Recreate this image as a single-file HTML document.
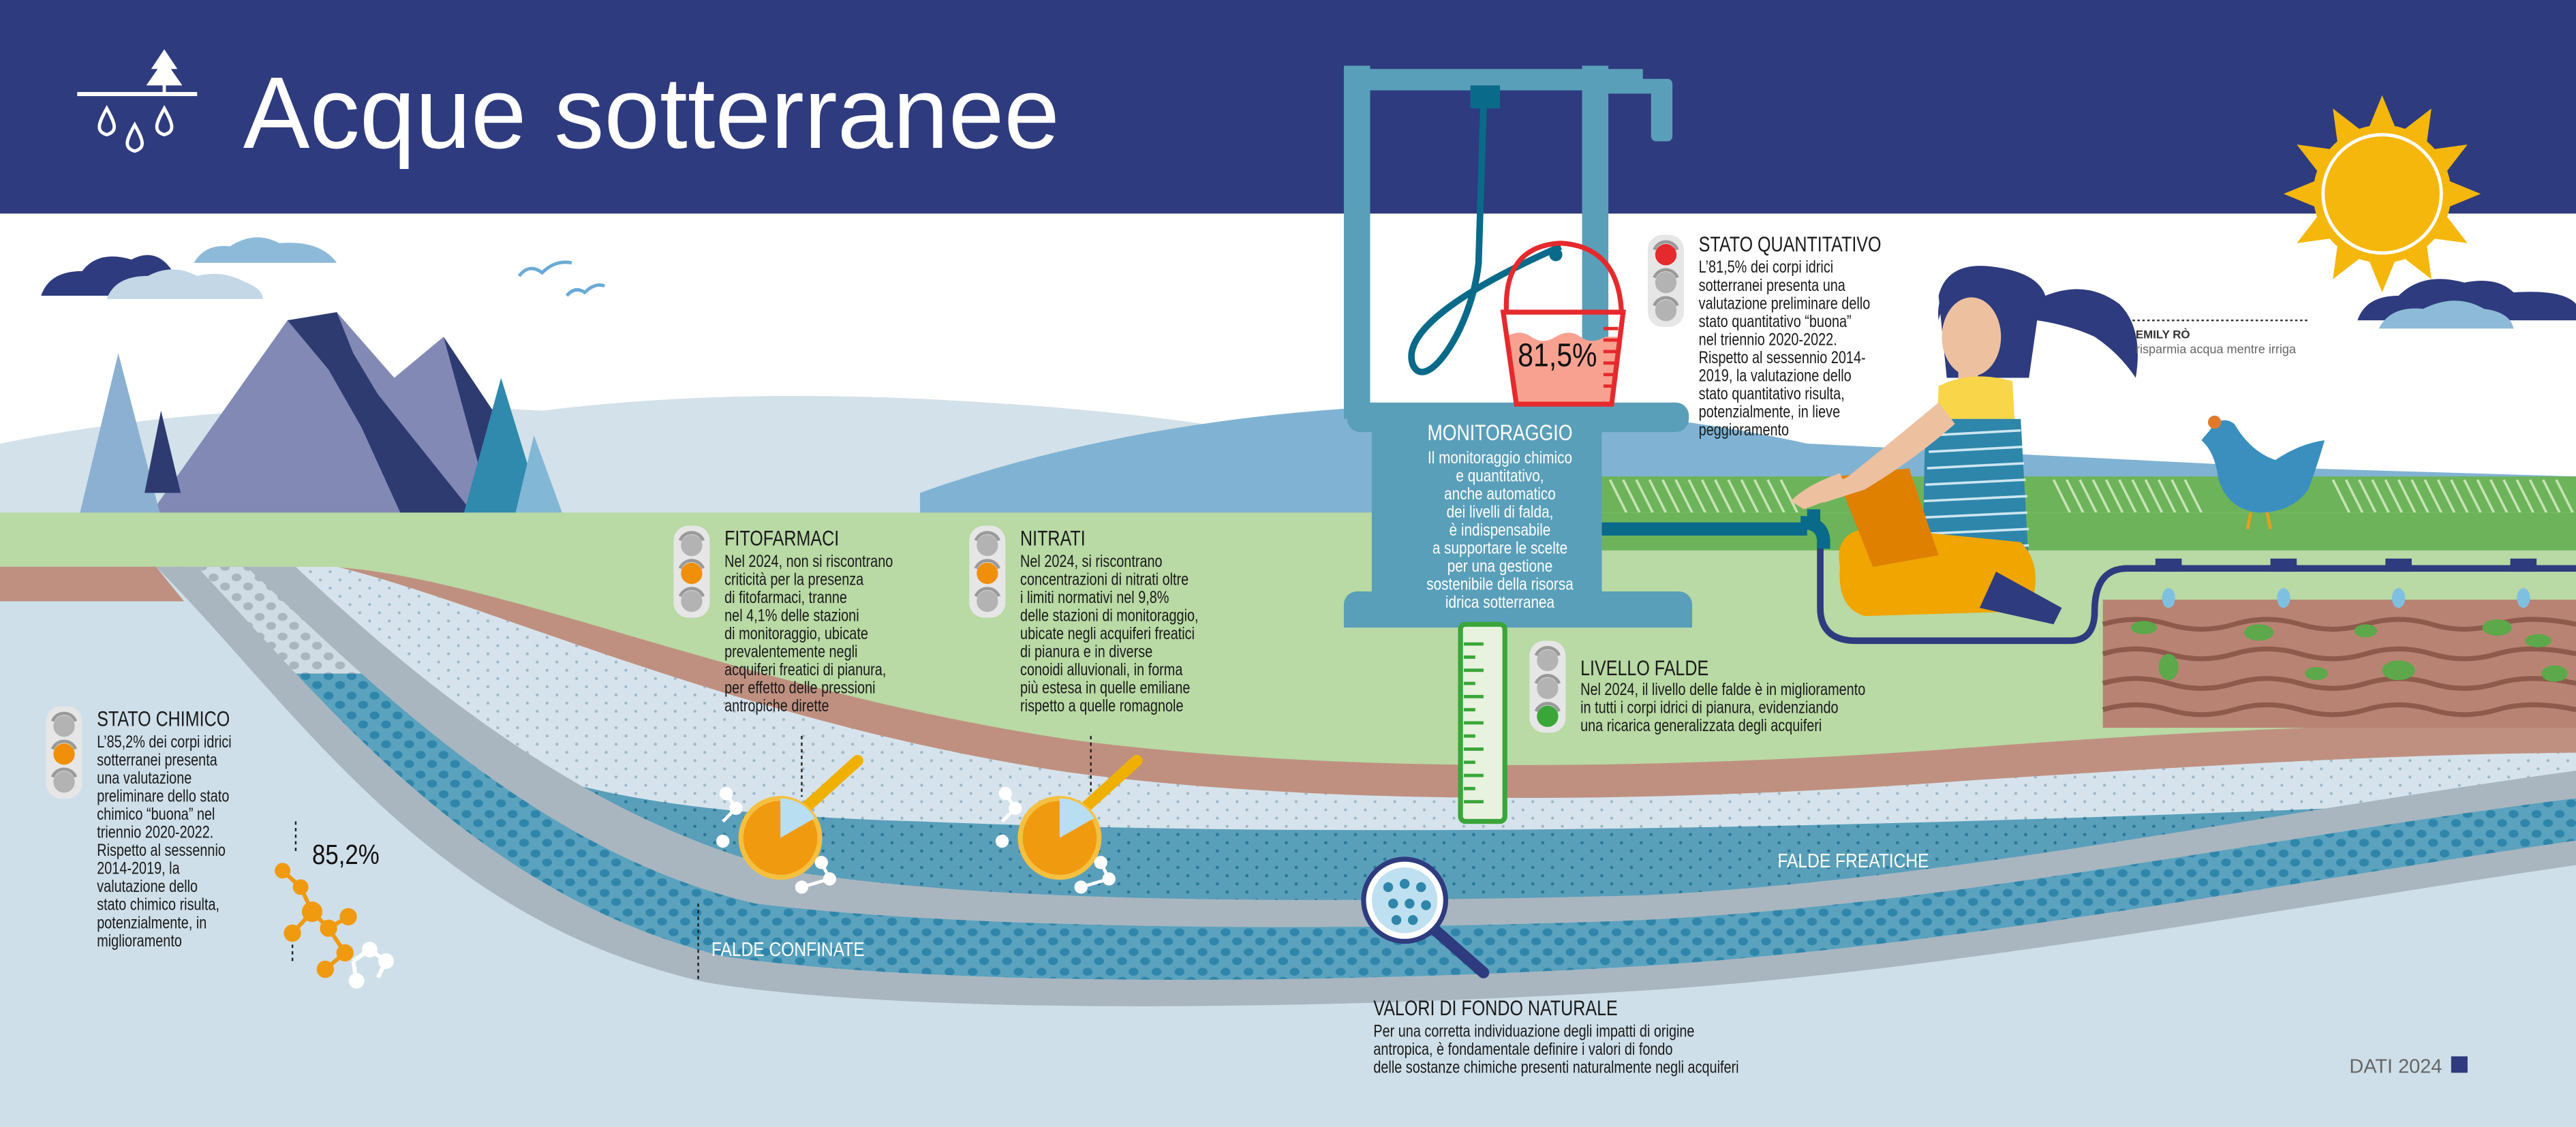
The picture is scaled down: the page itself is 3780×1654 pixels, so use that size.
<!DOCTYPE html>
<html><head><meta charset="utf-8">
<style>
html,body{margin:0;padding:0;background:#fff;width:3780px;height:1654px;overflow:hidden;}
svg{display:block;}
text{font-family:"Liberation Sans",sans-serif;}
.t{font-size:13px;fill:#1a1a1a;}
.b{font-size:10.3px;fill:#1a1a1a;}
.w{fill:#fff;}
</style></head><body>
<svg width="3780" height="1654" viewBox="0 0 1568 686" preserveAspectRatio="none" xmlns="http://www.w3.org/2000/svg">
<defs>
<pattern id="dl" width="12" height="10" patternUnits="userSpaceOnUse">
<rect width="12" height="10" fill="#d6e3ec"/><circle cx="3" cy="3" r="0.9" fill="#9fb8c8"/><circle cx="9" cy="8" r="0.9" fill="#9fb8c8"/></pattern>
<pattern id="db" width="12" height="10" patternUnits="userSpaceOnUse">
<rect width="12" height="10" fill="#5a9fba"/><circle cx="3" cy="3" r="1" fill="#2a7898"/><circle cx="9" cy="8" r="1" fill="#2a7898"/></pattern>
<pattern id="cb" width="14" height="12" patternUnits="userSpaceOnUse">
<rect width="14" height="12" fill="#5aa2be"/><ellipse cx="4" cy="3.5" rx="3" ry="2.4" fill="#2f86aa"/><ellipse cx="11" cy="9" rx="3" ry="2.4" fill="#2f86aa"/></pattern>
<pattern id="cl" width="14" height="12" patternUnits="userSpaceOnUse">
<rect width="14" height="12" fill="#d0dce4"/><ellipse cx="4" cy="3.5" rx="3" ry="2.4" fill="#a9b6c0"/><ellipse cx="11" cy="9" rx="3" ry="2.4" fill="#a9b6c0"/></pattern>
<clipPath id="gc"><rect x="0" y="345" width="1568" height="400"/></clipPath>
<clipPath id="tc"><rect x="0" y="345" width="1568" height="65"/></clipPath>
</defs>

<rect width="1568" height="686" fill="#fff"/>
<rect width="1568" height="130" fill="#2e3b7e"/>
<text x="148" y="90" font-size="62" fill="#fff" textLength="497" lengthAdjust="spacingAndGlyphs">Acque sotterranee</text>
<g fill="#fff">
<rect x="47" y="56" width="73" height="2.5"/>
<polygon points="100,30 92,42 96,42 89,52 111,52 104,42 108,42"/>
<rect x="99" y="52" width="2" height="5"/>
<path d="M65 66 C60 75 58 80 65 82 C72 80 70 75 65 66Z" fill="none" stroke="#fff" stroke-width="2"/>
<path d="M82 76 C77 85 75 90 82 92 C89 90 87 85 82 76Z" fill="none" stroke="#fff" stroke-width="2"/>
<path d="M100 66 C95 75 93 80 100 82 C107 80 105 75 100 66Z" fill="none" stroke="#fff" stroke-width="2"/>
</g>

<path d="M25 180 Q30 165 50 165 Q60 152 80 158 Q95 150 105 165 Q115 170 115 180Z" fill="#2e3b7e"/>
<path d="M65 182 Q70 168 90 168 Q105 160 120 168 Q135 164 150 172 Q160 176 160 182Z" fill="#c3d7e7"/>
<path d="M118 160 Q125 148 140 150 Q155 140 170 148 Q195 146 205 160Z" fill="#8dbad8"/>
<path d="M1435 195 Q1440 180 1460 180 Q1475 165 1500 172 Q1520 168 1530 178 Q1560 176 1568 185 L1568 195Z" fill="#2e3b7e"/>
<path d="M1448 200 Q1455 186 1475 188 Q1495 178 1512 188 Q1528 190 1530 200Z" fill="#8dbad8"/>
<path d="M316 168 Q322 160 330 166 Q338 158 348 160 M345 180 Q350 174 356 178 Q362 172 368 174" fill="none" stroke="#6aaad6" stroke-width="2"/>

<g fill="#f6b70c">
<polygon points="1450,58 1459,80 1441,80"/>
<polygon points="1450,58 1459,80 1441,80" transform="rotate(30 1450 118)"/>
<polygon points="1450,58 1459,80 1441,80" transform="rotate(60 1450 118)"/>
<polygon points="1450,58 1459,80 1441,80" transform="rotate(90 1450 118)"/>
<polygon points="1450,58 1459,80 1441,80" transform="rotate(120 1450 118)"/>
<polygon points="1450,58 1459,80 1441,80" transform="rotate(150 1450 118)"/>
<polygon points="1450,58 1459,80 1441,80" transform="rotate(180 1450 118)"/>
<polygon points="1450,58 1459,80 1441,80" transform="rotate(210 1450 118)"/>
<polygon points="1450,58 1459,80 1441,80" transform="rotate(240 1450 118)"/>
<polygon points="1450,58 1459,80 1441,80" transform="rotate(270 1450 118)"/>
<polygon points="1450,58 1459,80 1441,80" transform="rotate(300 1450 118)"/>
<polygon points="1450,58 1459,80 1441,80" transform="rotate(330 1450 118)"/>
<circle cx="1450" cy="118" r="42"/>
</g>
<circle cx="1450" cy="118" r="36" fill="none" stroke="#fff" stroke-width="2"/>

<path d="M0 270 Q150 240 330 250 Q450 235 600 245 Q720 252 830 275 L830 320 L0 320Z" fill="#d3e1ea"/>
<path d="M560 300 Q700 250 880 246 Q1000 248 1100 270 Q1200 275 1400 285 L1568 290 L1568 320 L560 320Z" fill="#80b3d3"/>
<rect x="975" y="290" width="593" height="45" fill="#6db35a"/>
<g stroke="#c6e3b5" stroke-width="1.5">
<path d="M980 292 L990 312 M988 292 L998 312 M996 292 L1006 312 M1004 292 L1014 312 M1012 292 L1022 312 M1020 292 L1030 312 M1028 292 L1038 312 M1036 292 L1046 312 M1044 292 L1054 312 M1052 292 L1062 312 M1060 292 L1070 312 M1068 292 L1078 312 M1076 292 L1086 312 M1084 292 L1094 312 M1250 292 L1260 312 M1258 292 L1268 312 M1266 292 L1276 312 M1274 292 L1284 312 M1282 292 L1292 312 M1290 292 L1300 312 M1298 292 L1308 312 M1306 292 L1316 312 M1314 292 L1324 312 M1322 292 L1332 312 M1330 292 L1340 312 M1420 292 L1430 312 M1428 292 L1438 312 M1436 292 L1446 312 M1444 292 L1454 312 M1452 292 L1462 312 M1460 292 L1470 312 M1468 292 L1478 312 M1476 292 L1486 312 M1484 292 L1494 312 M1492 292 L1502 312 M1500 292 L1510 312 M1508 292 L1518 312 M1516 292 L1526 312 M1524 292 L1534 312 M1532 292 L1542 312 M1540 292 L1550 312 M1548 292 L1558 312 M1556 292 L1566 312"/>
</g>

<polygon points="90,315 175,195 205,190 240,230 270,205 300,250 330,315" fill="#8289b5"/>
<polygon points="175,195 205,190 215,215 230,240 270,290 290,315 245,315 220,260 200,225" fill="#2e3b70"/>
<polygon points="270,205 300,250 330,315 300,315 285,260" fill="#2e3b70"/>
<polygon points="72,215 48,315 98,315" fill="#8bb0d2"/>
<polygon points="98,250 88,300 110,300" fill="#2e3b70"/>
<polygon points="305,230 278,328 335,328" fill="#2f8aad"/>
<polygon points="325,265 310,328 348,328" fill="#83b7d6"/>

<rect x="0" y="312" width="1568" height="374" fill="#b9d9a5"/>
<rect x="975" y="312" width="593" height="23" fill="#6db35a"/>

<!-- ground layers -->
<g clip-path="url(#gc)">
<path d="M200 345 C300 350 450 420 650 450 C800 470 1000 470 1200 455 C1400 440 1500 440 1600 440 L1700 900 L-300 900 L-300 345Z" fill="#bf9080"/>
<path d="M205 345 C300 368 450 440 650 470 C800 490 1000 490 1200 475 C1400 462 1500 458 1600 458 L1700 900 L-300 900 L-300 345Z" fill="url(#dl)"/>
<path d="M240 420 C300 480 400 495 560 500 C800 510 1100 505 1420 492 C1500 488 1568 486 1600 486 L1700 900 L-300 900 L-300 345Z" fill="url(#db)"/>
<path d="M180 345 C260 420 360 500 480 530 C600 550 800 550 1000 545 C1200 535 1400 490 1600 465 L1700 900 L-300 900 L-300 345Z" fill="#a9b6c0"/>
<path d="M150 345 C230 420 330 520 460 550 C580 565 800 568 1000 560 C1200 550 1400 505 1600 482 L1700 900 L-300 900 L-300 345Z" fill="url(#cb)"/>
<path d="M150 345 C230 420 330 520 460 550 C580 565 800 568 1000 560 C1200 550 1400 505 1600 482 L1700 900 L-300 900 L-300 345Z" fill="url(#cl)" clip-path="url(#tc)"/>
<path d="M120 345 C200 430 290 545 440 582 C560 600 800 600 1000 588 C1200 575 1400 535 1600 507 L1700 900 L-300 900 L-300 345Z" fill="#a9b6c0"/>
<path d="M95 345 C180 430 260 560 430 598 C550 618 800 615 1000 603 C1200 590 1400 550 1600 522 L1700 900 L-300 900 L-300 345Z" fill="#cfdfe9"/>
</g>
<polygon points="0,345 95,345 112,366 0,366" fill="#bf9080"/>

<!-- farm -->
<rect x="1280" y="365" width="288" height="78" fill="#b98373"/>
<g fill="none" stroke="#8d5a4c" stroke-width="3">
<path d="M1280 380 Q1300 374 1320 380 T1360 380 T1400 380 T1440 380 T1480 380 T1520 380 T1568 380"/>
<path d="M1280 398 Q1300 392 1320 398 T1360 398 T1400 398 T1440 398 T1480 398 T1520 398 T1568 398"/>
<path d="M1280 416 Q1300 410 1320 416 T1360 416 T1400 416 T1440 416 T1480 416 T1520 416 T1568 416"/>
<path d="M1280 432 Q1300 426 1320 432 T1360 432 T1400 432 T1440 432 T1480 432 T1520 432 T1568 432"/>
</g>
<g fill="#5ca84a">
<ellipse cx="1305" cy="382" rx="8" ry="4"/><ellipse cx="1375" cy="385" rx="9" ry="5"/><ellipse cx="1440" cy="384" rx="7" ry="4"/>
<ellipse cx="1520" cy="382" rx="9" ry="5"/><ellipse cx="1545" cy="390" rx="8" ry="4"/><ellipse cx="1460" cy="408" rx="10" ry="6"/>
<ellipse cx="1410" cy="410" rx="7" ry="4"/><ellipse cx="1320" cy="406" rx="6" ry="8"/><ellipse cx="1555" cy="410" rx="8" ry="5"/>
</g>
<path d="M1108 330 L1108 370 Q1108 390 1130 390 L1260 390 Q1275 390 1275 372 Q1275 346 1295 346 L1568 346" fill="none" stroke="#2e3b7e" stroke-width="4"/>
<g fill="#2e3b7e"><rect x="1312" y="340" width="16" height="8"/><rect x="1382" y="340" width="16" height="8"/><rect x="1452" y="340" width="16" height="8"/><rect x="1528" y="340" width="16" height="8"/></g>
<g fill="#7fc0e0"><ellipse cx="1320" cy="364" rx="4" ry="6"/><ellipse cx="1390" cy="364" rx="4" ry="6"/><ellipse cx="1460" cy="364" rx="4" ry="6"/><ellipse cx="1536" cy="364" rx="4" ry="6"/></g>

<rect x="975" y="318" width="125" height="8" fill="#0a6a8a"/>
<path d="M1096 318 Q1110 318 1110 330 L1110 334" fill="none" stroke="#0a6a8a" stroke-width="8"/>
<rect x="1100" y="310" width="8" height="8" fill="#0a6a8a"/>

<g fill="#5a9fba">
<rect x="818" y="40" width="16" height="215"/>
<rect x="963" y="40" width="16" height="215"/>
<rect x="818" y="42" width="182" height="13"/>
<rect x="979" y="48" width="28" height="9"/>
<rect x="1005" y="48" width="13" height="38" rx="3"/>
<rect x="820" y="245" width="208" height="18" rx="8"/>
<rect x="835" y="260" width="140" height="105"/>
<rect x="818" y="360" width="212" height="22" rx="8"/>
<rect x="818" y="370" width="212" height="12"/>
</g>
<rect x="895" y="52" width="18" height="14" fill="#0a6a8a"/>
<path d="M903 65 L900 160 C896 200 868 240 860 222 C852 200 900 172 950 150" fill="none" stroke="#0a6a8a" stroke-width="4"/>
<path d="M917 190 Q915 150 950 148 Q985 150 987 190" fill="none" stroke="#e52a2d" stroke-width="3"/>
<path d="M917 205 Q925 200 932 205 T947 205 T962 205 T977 205 L985 205 L980 245 L922 245Z" fill="#f9a190"/>
<path d="M915 190 L988 190 L981 246 L923 246Z" fill="none" stroke="#e52a2d" stroke-width="3"/>
<g stroke="#e52a2d" stroke-width="2"><path d="M976 200 L985 200 M976 207 L985 207 M976 214 L984 214 M976 221 L983 221 M976 228 L983 228 M976 235 L982 235"/></g>
<text x="948" y="223" text-anchor="middle" font-size="20" fill="#111" transform="translate(948,0) scale(0.85,1) translate(-948,0)">81,5%</text>
<circle cx="947" cy="155" r="4" fill="#0a6a8a"/>

<rect x="889" y="380" width="27" height="120" rx="3" fill="#e7f2df" stroke="#3aa63a" stroke-width="3"/>
<g stroke="#3aa63a" stroke-width="2"><path d="M891 392 L903 392 M891 400 L898 400 M891 408 L903 408 M891 416 L898 416 M891 424 L903 424 M891 432 L898 432 M891 440 L903 440 M891 448 L898 448 M891 456 L903 456 M891 464 L898 464 M891 472 L903 472 M891 480 L898 480 M891 488 L903 488"/></g>

<g transform="translate(913,0) scale(0.82,1)" text-anchor="middle">
<text x="0" y="268" font-size="13.5" fill="#fff">MONITORAGGIO</text>
<g font-size="10.5" fill="#fff">
<text x="0" y="282">Il monitoraggio chimico</text>
<text x="0" y="293">e quantitativo,</text>
<text x="0" y="304">anche automatico</text>
<text x="0" y="315">dei livelli di falda,</text>
<text x="0" y="326">è indispensabile</text>
<text x="0" y="337">a supportare le scelte</text>
<text x="0" y="348">per una gestione</text>
<text x="0" y="359">sostenibile della risorsa</text>
<text x="0" y="370">idrica sotterranea</text>
</g></g>

<!-- woman -->
<path d="M1180 180 Q1185 160 1210 162 Q1240 165 1245 180 Q1270 170 1290 185 Q1305 200 1300 230 Q1290 215 1275 205 Q1260 198 1240 195 L1235 230 L1185 230Z" fill="#2e3b7e"/>
<ellipse cx="1200" cy="205" rx="18" ry="24" fill="#edc0a0"/>
<path d="M1180 195 Q1185 172 1210 176 Q1225 178 1228 190 L1228 180 Q1215 162 1192 168 Q1178 178 1180 195Z" fill="#2e3b7e"/>
<rect x="1192" y="225" width="12" height="12" fill="#edc0a0"/>
<path d="M1180 235 Q1200 225 1225 232 L1228 290 L1178 290Z" fill="#f9d54a"/>
<path d="M1172 255 L1230 255 L1235 345 L1170 345Z" fill="#2e86ab"/>
<g stroke="#cde6f0" stroke-width="1.5"><path d="M1175 265 L1230 262 M1174 275 L1231 272 M1173 285 L1232 282 M1172 295 L1233 292 M1171 305 L1234 302 M1171 315 L1234 312 M1170 325 L1235 322 M1170 335 L1235 332"/></g>
<path d="M1120 345 Q1115 318 1150 322 L1230 330 Q1245 345 1235 372 L1135 375 Q1118 370 1120 345Z" fill="#f0a500"/>
<path d="M1118 290 L1162 285 L1180 338 L1140 345Z" fill="#e08000"/>
<path d="M1215 348 L1255 370 L1250 380 L1205 370Z" fill="#2e3b7e"/>
<path d="M1180 245 Q1150 270 1125 290 L1105 300 L1110 306 L1135 298 Q1165 280 1190 258Z" fill="#edc0a0"/>
<path d="M1120 288 Q1100 295 1090 305 L1098 310 L1125 300Z" fill="#edc0a0"/>
<path d="M1298 195 L1405 195" stroke="#333" stroke-width="1" stroke-dasharray="1.5,1.5"/>
<text x="1300" y="206" font-size="7" font-weight="bold" fill="#333">EMILY RÒ</text>
<text x="1300" y="215" font-size="7.5" fill="#666">risparmia acqua mentre irriga</text>

<path d="M1345 262 Q1352 252 1360 258 Q1370 275 1385 280 Q1400 270 1415 268 Q1410 285 1405 298 Q1395 312 1375 312 Q1355 310 1350 290 Q1348 275 1340 268Z" fill="#3a8fbf"/>
<circle cx="1348" cy="257" r="4" fill="#e07a2a"/>
<path d="M1370 312 L1368 322 M1380 312 L1382 322" stroke="#e0a020" stroke-width="2"/>

<g transform="translate(1003,143)">
<rect width="22" height="56" rx="9" fill="#e6e6e6"/>
<circle cx="11" cy="12" r="6.5" fill="#e52a2d"/><circle cx="11" cy="29" r="6.5" fill="#b3b3b3"/><circle cx="11" cy="46" r="6.5" fill="#b3b3b3"/>
<path d="M4 9 A7.5 7.5 0 0 1 18 9 M4 26 A7.5 7.5 0 0 1 18 26 M4 43 A7.5 7.5 0 0 1 18 43" fill="none" stroke="#9a9a9a" stroke-width="2"/></g>
<g transform="translate(931,390)">
<rect width="22" height="56" rx="9" fill="#e6e6e6"/>
<circle cx="11" cy="12" r="6.5" fill="#b3b3b3"/><circle cx="11" cy="29" r="6.5" fill="#b3b3b3"/><circle cx="11" cy="46" r="6.5" fill="#3aa63a"/>
<path d="M4 9 A7.5 7.5 0 0 1 18 9 M4 26 A7.5 7.5 0 0 1 18 26 M4 43 A7.5 7.5 0 0 1 18 43" fill="none" stroke="#9a9a9a" stroke-width="2"/></g>
<g transform="translate(410,320)">
<rect width="22" height="56" rx="9" fill="#e6e6e6"/>
<circle cx="11" cy="12" r="6.5" fill="#b3b3b3"/><circle cx="11" cy="29" r="6.5" fill="#f0900a"/><circle cx="11" cy="46" r="6.5" fill="#b3b3b3"/>
<path d="M4 9 A7.5 7.5 0 0 1 18 9 M4 26 A7.5 7.5 0 0 1 18 26 M4 43 A7.5 7.5 0 0 1 18 43" fill="none" stroke="#9a9a9a" stroke-width="2"/></g>
<g transform="translate(590,320)">
<rect width="22" height="56" rx="9" fill="#e6e6e6"/>
<circle cx="11" cy="12" r="6.5" fill="#b3b3b3"/><circle cx="11" cy="29" r="6.5" fill="#f0900a"/><circle cx="11" cy="46" r="6.5" fill="#b3b3b3"/>
<path d="M4 9 A7.5 7.5 0 0 1 18 9 M4 26 A7.5 7.5 0 0 1 18 26 M4 43 A7.5 7.5 0 0 1 18 43" fill="none" stroke="#9a9a9a" stroke-width="2"/></g>
<g transform="translate(28,430)">
<rect width="22" height="56" rx="9" fill="#e6e6e6"/>
<circle cx="11" cy="12" r="6.5" fill="#b3b3b3"/><circle cx="11" cy="29" r="6.5" fill="#f0900a"/><circle cx="11" cy="46" r="6.5" fill="#b3b3b3"/>
<path d="M4 9 A7.5 7.5 0 0 1 18 9 M4 26 A7.5 7.5 0 0 1 18 26 M4 43 A7.5 7.5 0 0 1 18 43" fill="none" stroke="#9a9a9a" stroke-width="2"/></g>

<g transform="translate(1034,0) scale(0.8,1)">
<text class="t" x="0" y="153">STATO QUANTITATIVO</text>
<g class="b">
<text x="0" y="166">L’81,5% dei corpi idrici</text>
<text x="0" y="177">sotterranei presenta una</text>
<text x="0" y="188">valutazione preliminare dello</text>
<text x="0" y="199">stato quantitativo “buona”</text>
<text x="0" y="210">nel triennio 2020-2022.</text>
<text x="0" y="221">Rispetto al sessennio 2014-</text>
<text x="0" y="232">2019, la valutazione dello</text>
<text x="0" y="243">stato quantitativo risulta,</text>
<text x="0" y="254">potenzialmente, in lieve</text>
<text x="0" y="265">peggioramento</text>
</g></g>

<g transform="translate(962,0) scale(0.8,1)">
<text class="t" x="0" y="411">LIVELLO FALDE</text>
<g class="b">
<text x="0" y="423">Nel 2024, il livello delle falde è in miglioramento</text>
<text x="0" y="434">in tutti i corpi idrici di pianura, evidenziando</text>
<text x="0" y="445">una ricarica generalizzata degli acquiferi</text>
</g></g>

<g transform="translate(441,0) scale(0.8,1)">
<text class="t" x="0" y="332">FITOFARMACI</text>
<g class="b">
<text x="0" y="345">Nel 2024, non si riscontrano</text>
<text x="0" y="356">criticità per la presenza</text>
<text x="0" y="367">di fitofarmaci, tranne</text>
<text x="0" y="378">nel 4,1% delle stazioni</text>
<text x="0" y="389">di monitoraggio, ubicate</text>
<text x="0" y="400">prevalentemente negli</text>
<text x="0" y="411">acquiferi freatici di pianura,</text>
<text x="0" y="422">per effetto delle pressioni</text>
<text x="0" y="433">antropiche dirette</text>
</g></g>

<g transform="translate(621,0) scale(0.8,1)">
<text class="t" x="0" y="332">NITRATI</text>
<g class="b">
<text x="0" y="345">Nel 2024, si riscontrano</text>
<text x="0" y="356">concentrazioni di nitrati oltre</text>
<text x="0" y="367">i limiti normativi nel 9,8%</text>
<text x="0" y="378">delle stazioni di monitoraggio,</text>
<text x="0" y="389">ubicate negli acquiferi freatici</text>
<text x="0" y="400">di pianura e in diverse</text>
<text x="0" y="411">conoidi alluvionali, in forma</text>
<text x="0" y="422">più estesa in quelle emiliane</text>
<text x="0" y="433">rispetto a quelle romagnole</text>
</g></g>

<g transform="translate(59,0) scale(0.8,1)">
<text class="t" x="0" y="442">STATO CHIMICO</text>
<g class="b">
<text x="0" y="455">L’85,2% dei corpi idrici</text>
<text x="0" y="466">sotterranei presenta</text>
<text x="0" y="477">una valutazione</text>
<text x="0" y="488">preliminare dello stato</text>
<text x="0" y="499">chimico “buona” nel</text>
<text x="0" y="510">triennio 2020-2022.</text>
<text x="0" y="521">Rispetto al sessennio</text>
<text x="0" y="532">2014-2019, la</text>
<text x="0" y="543">valutazione dello</text>
<text x="0" y="554">stato chimico risulta,</text>
<text x="0" y="565">potenzialmente, in</text>
<text x="0" y="576">miglioramento</text>
</g></g>

<g transform="translate(836,0) scale(0.8,1)">
<text class="t" x="0" y="618">VALORI DI FONDO NATURALE</text>
<g class="b">
<text x="0" y="631">Per una corretta individuazione degli impatti di origine</text>
<text x="0" y="642">antropica, è fondamentale definire i valori di fondo</text>
<text x="0" y="653">delle sostanze chimiche presenti naturalmente negli acquiferi</text>
</g></g>

<text x="190" y="526" font-size="17" fill="#111" transform="translate(190,0) scale(0.85,1) translate(-190,0)">85,2%</text>
<g transform="translate(1082,0) scale(0.85,1)"><text x="0" y="528" font-size="12" fill="#fff">FALDE FREATICHE</text></g>
<g transform="translate(433,0) scale(0.85,1)"><text x="0" y="582" font-size="12" fill="#fff">FALDE CONFINATE</text></g>
<text x="1430" y="653" font-size="12" fill="#666">DATI 2024</text>
<rect x="1492" y="643" width="10" height="10" fill="#2e3b7e"/>

<path d="M488 448 L488 485 M664 448 L664 485 M180 500 L180 520 M178 575 L178 585 M425 550 L425 598" stroke="#222" stroke-width="1" stroke-dasharray="2,2"/>

<g>
<line x1="490" y1="492" x2="522" y2="463" stroke="#f0b000" stroke-width="7" stroke-linecap="round"/>
<circle cx="475" cy="510" r="24" fill="#f09a10" stroke="#f5c040" stroke-width="3"/>
<path d="M475 510 L475 486 A24 24 0 0 1 496 498Z" fill="#b8def2"/>
<line x1="660" y1="492" x2="692" y2="463" stroke="#f0b000" stroke-width="7" stroke-linecap="round"/>
<circle cx="645" cy="510" r="24" fill="#f09a10" stroke="#f5c040" stroke-width="3"/>
<path d="M645 510 L645 486 A24 24 0 0 1 666 498Z" fill="#b8def2"/>
<g fill="#fff" stroke="#fff" stroke-width="2">
<circle cx="442" cy="483" r="3"/><circle cx="448" cy="492" r="3"/><circle cx="440" cy="512" r="3"/><circle cx="500" cy="525" r="3"/><circle cx="505" cy="535" r="3"/><circle cx="488" cy="540" r="3"/>
<path d="M442 483 L448 492 L440 500 M500 525 L505 535 L488 540" fill="none"/>
<circle cx="612" cy="483" r="3"/><circle cx="618" cy="492" r="3"/><circle cx="610" cy="512" r="3"/><circle cx="670" cy="525" r="3"/><circle cx="675" cy="535" r="3"/><circle cx="658" cy="540" r="3"/>
<path d="M612 483 L618 492 L610 500 M670 525 L675 535 L658 540" fill="none"/>
</g>
<line x1="870" y1="563" x2="903" y2="592" stroke="#2e3b7e" stroke-width="7" stroke-linecap="round"/>
<circle cx="855" cy="548" r="25" fill="#fff" stroke="#2e3b7e" stroke-width="3"/>
<circle cx="855" cy="548" r="20" fill="#bfe0f0"/>
<g fill="#2f86aa"><circle cx="845" cy="540" r="3"/><circle cx="855" cy="538" r="3"/><circle cx="865" cy="540" r="3"/><circle cx="848" cy="550" r="3"/><circle cx="858" cy="550" r="3"/><circle cx="868" cy="551" r="3"/><circle cx="850" cy="560" r="3"/><circle cx="860" cy="560" r="3"/></g>
</g>
<g stroke="#f09a10" stroke-width="2.5" fill="#f09a10">
<path d="M172 530 L183 540 L190 555 L200 565 L210 580 L198 590 M190 555 L178 568 M200 565 L212 558" fill="none"/>
<circle cx="172" cy="530" r="3.5"/><circle cx="183" cy="540" r="3.5"/><circle cx="190" cy="555" r="5"/><circle cx="200" cy="565" r="4"/><circle cx="210" cy="580" r="4"/><circle cx="198" cy="590" r="4"/><circle cx="178" cy="568" r="4"/><circle cx="212" cy="558" r="4"/>
</g>
<g stroke="#fff" stroke-width="2.5" fill="#fff">
<path d="M215 585 L225 578 L235 585 L230 595 M215 585 L217 597" fill="none"/>
<circle cx="225" cy="578" r="3.5"/><circle cx="235" cy="585" r="3.5"/><circle cx="217" cy="597" r="3.5"/>
</g>
</svg>
</body></html>
